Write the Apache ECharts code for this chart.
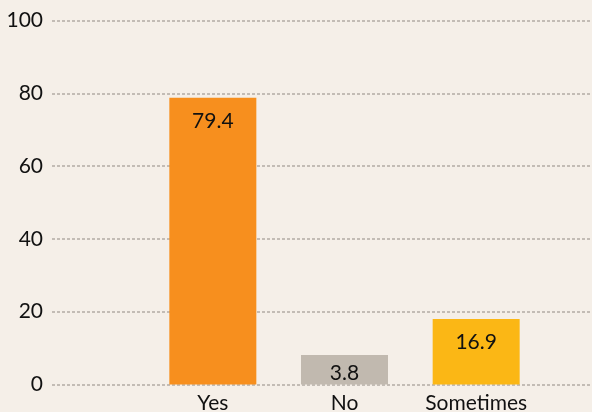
<!DOCTYPE html>
<html>
<head>
<meta charset="utf-8">
<script src="https://cdn.jsdelivr.net/npm/echarts@6/dist/echarts.min.js"></script>
<style>
	html, body { margin: 0; padding: 0; background: #f5efe8; }
	#container { width: 592px; height: 412px; }
</style>
</head>
<body>
<div id="container"></div>
<script>
	'use strict';

	// categories and values
	var categories = ['Yes', 'No', 'Sometimes'];
	var barHeights = [78.8, 8.1, 18];          // drawn heights
	var valueLabels = ['79.4', '3.8', '16.9'];  // printed labels
	var barColors = ['#f78f1e', '#c1b9af', '#fbb715'];
	var yTicks = [0, 20, 40, 60, 80, 100];

	var fontFamily = 'Lato, "Open Sans", sans-serif';

	var myChart = echarts.init(document.getElementById('container'));

	var option = {
		backgroundColor: '#f5efe8',
		animation: false,
		grid: [{
			// grid for the y axis and dashed gridlines
			left: 52, right: 2, top: 20.5, bottom: 27.5,
			outerBoundsMode: 'none'
		}, {
			// grid for the bars
			left: 147, right: 50, top: 20.5, bottom: 27.5,
			outerBoundsMode: 'none'
		}],
		xAxis: [{
			gridIndex: 0,
			type: 'category',
			data: categories,
			show: false
		}, {
			gridIndex: 1,
			type: 'category',
			data: categories,
			axisLine: { show: false },
			axisTick: { show: false },
			axisLabel: {
				interval: 0,
				color: '#111',
				fontSize: 21,
				fontFamily: fontFamily,
				margin: 8
			}
		}],
		yAxis: [{
			gridIndex: 0,
			type: 'value',
			min: yTicks[0],
			max: yTicks[yTicks.length - 1],
			interval: 20,
			axisLine: { show: false },
			axisTick: { show: false },
			axisLabel: {
				color: '#111',
				fontSize: 21,
				fontFamily: fontFamily,
				margin: 9
			},
			splitLine: {
				lineStyle: {
					color: '#b3aca4',
					width: 1.5,
					type: [3, 2]
				}
			}
		}, {
			gridIndex: 1,
			type: 'value',
			min: yTicks[0],
			max: yTicks[yTicks.length - 1],
			show: false
		}],
		series: [{
			type: 'bar',
			xAxisIndex: 1,
			yAxisIndex: 1,
			barWidth: 87,
			data: barHeights.map(function(v, i) {
				return {
					value: v,
					itemStyle: { color: barColors[i] },
					label: { distance: i === 1 ? 8 : 13 }
				};
			}),
			label: {
				show: true,
				position: 'insideTop',
				color: '#111',
				fontSize: 21,
				fontFamily: fontFamily,
				formatter: function(p) {
					return valueLabels[p.dataIndex];
				}
			}
		}]
	};

	myChart.setOption(option);
</script>
</body>
</html>
